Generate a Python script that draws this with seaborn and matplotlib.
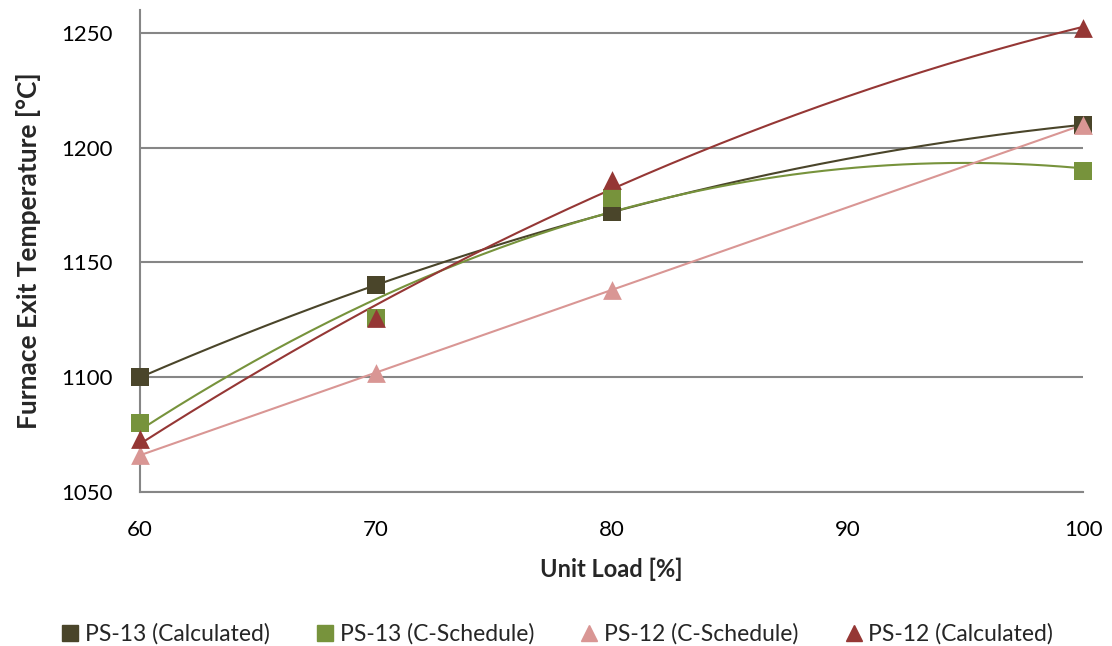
import numpy as np
import pandas as pd
import matplotlib
matplotlib.use("Agg")
import matplotlib.pyplot as plt
from matplotlib.lines import Line2D
import seaborn as sns

# Measured furnace exit temperatures by unit load
unit_load = [60, 70, 80, 100]
ps13_calculated = [1100, 1140, 1172, 1210]
ps13_c_schedule = [1080, 1126, 1178, 1190]
ps12_c_schedule = [1066, 1102, 1138, 1210]
ps12_calculated = [1073, 1126, 1186, 1252]

series_names = ["PS-13 (Calculated)", "PS-13 (C-Schedule)",
                "PS-12 (C-Schedule)", "PS-12 (Calculated)"]
series_values = [ps13_calculated, ps13_c_schedule, ps12_c_schedule, ps12_calculated]
colors = ["#4A452A", "#77933C", "#D99694", "#953735"]
markers = ["s", "s", "^", "^"]
y_ticks = [1050, 1100, 1150, 1200, 1250]
x_ticks = [60, 70, 80, 90, 100]

points = pd.DataFrame({
    "load": np.tile(unit_load, len(series_names)),
    "temp": np.concatenate(series_values),
    "series": np.repeat(series_names, len(unit_load)),
})

# Second-order polynomial trendline per series
xs = np.linspace(min(unit_load), max(unit_load), 300)
trend_frames = []
for name, vals in zip(series_names, series_values):
    coef = np.polyfit(unit_load, vals, 2)
    trend_frames.append(pd.DataFrame({"load": xs, "temp": np.polyval(coef, xs), "series": name}))
trends = pd.concat(trend_frames, ignore_index=True)

sns.set_theme(style="white")
plt.rcParams["font.family"] = ["Lato", "DejaVu Sans"]

fig = plt.figure(figsize=(11.12, 6.46), dpi=100)
ax = fig.add_axes([0.1259, 0.2384, 0.8481, 0.7461])

palette = dict(zip(series_names, colors))
sns.lineplot(data=trends, x="load", y="temp", hue="series", palette=palette,
             hue_order=series_names, linewidth=1.5, legend=False, ax=ax,
             sort=False, estimator=None, zorder=2)
for name, col, mk in zip(series_names, colors, markers):
    sub = points[points["series"] == name]
    sns.scatterplot(data=sub, x="load", y="temp", color=col, marker=mk,
                    s=13.5 ** 2, linewidth=0, legend=False, ax=ax, zorder=3,
                    clip_on=False)

ax.set_xlim(60, 100)
ax.set_ylim(1050, 1260)
ax.set_xticks(x_ticks)
ax.set_yticks(y_ticks)
ax.yaxis.grid(True, color="#868686", linewidth=1.5)
ax.xaxis.grid(False)
ax.set_axisbelow(True)
for side in ["top", "right"]:
    ax.spines[side].set_visible(False)
for side in ["left", "bottom"]:
    ax.spines[side].set_color("#868686")
    ax.spines[side].set_linewidth(1.5)
ax.tick_params(axis="both", which="major", direction="out", colors="#868686",
               labelcolor="black", labelsize=16, width=1.5)
ax.tick_params(axis="y", length=6, pad=14)
ax.tick_params(axis="x", length=6, pad=14)

ax.set_xlabel("Unit Load [%]", fontsize=17, fontweight="bold", labelpad=13)
ax.set_ylabel("Furnace Exit Temperature [°C]", fontsize=19, fontweight="bold", labelpad=14)

handles = [Line2D([], [], linestyle="none", marker=mk, color=col, markersize=12)
           for col, mk in zip(colors, markers)]
fig.legend(handles, series_names, loc="lower center", bbox_to_anchor=(0.5, -0.03),
           ncol=4, frameon=False, fontsize=16.5, handletextpad=0.15,
           columnspacing=1.9, handlelength=1.0)

fig.savefig("out.png", dpi=100)
